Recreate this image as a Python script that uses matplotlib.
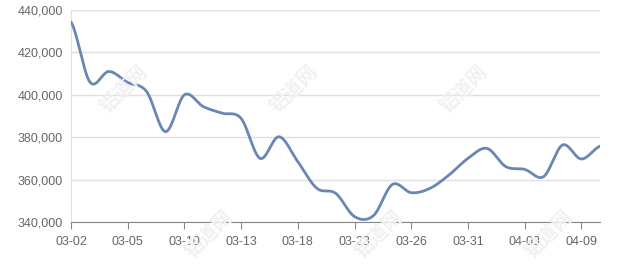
import numpy as np
import matplotlib
matplotlib.use("Agg")
import matplotlib.pyplot as plt
from matplotlib.ticker import FuncFormatter

plt.rcParams['font.family'] = ['Liberation Sans', 'Noto Sans CJK SC']

# trading days, 2020-03-02 .. 2020-04-10
dates = ["03-02", "03-03", "03-04", "03-05", "03-06", "03-09", "03-10", "03-11",
         "03-12", "03-13", "03-16", "03-17", "03-18", "03-19", "03-20", "03-23",
         "03-24", "03-25", "03-26", "03-27", "03-30", "03-31", "04-01", "04-02",
         "04-03", "04-07", "04-08", "04-09", "04-10"]

stock = [434300, 406000, 411000, 405800, 401500, 382600, 400000, 394400,
         391300, 388800, 370000, 380200, 368400, 355900, 353500, 342500,
         343000, 357700, 353800, 355900, 362200, 370000, 374700, 366100,
         364800, 361400, 376300, 369700, 375800]

label_every = 3


def smooth_curve(y, n=20):
    # catmull-rom through the points, a bit like the echarts smooth line
    y = np.asarray(y, dtype=float)
    p = np.concatenate([[y[0]], y, [y[-1]]])
    xs, ys = [], []
    for i in range(len(y) - 1):
        p0, p1, p2, p3 = p[i], p[i + 1], p[i + 2], p[i + 3]
        t = np.linspace(0, 1, n, endpoint=False)
        seg = 0.5 * ((2 * p1) + (-p0 + p2) * t
                     + (2 * p0 - 5 * p1 + 4 * p2 - p3) * t ** 2
                     + (-p0 + 3 * p1 - 3 * p2 + p3) * t ** 3)
        xs.append(i + t)
        ys.append(seg)
    xs.append([len(y) - 1])
    ys.append([y[-1]])
    return np.concatenate(xs), np.concatenate(ys)


fig = plt.figure(figsize=(6.4, 2.7), dpi=100)
ax = fig.add_axes([0.111, 0.178, 0.827, 0.785])

# faint watermarks
for wx, wy in [(125, 90), (295, 90), (465, 90), (210, 235), (380, 235), (550, 235)]:
    fig.text(wx / 640, 1 - wy / 270, "铝道网", rotation=45, fontsize=14,
             fontweight="bold", color="#f1f1f1", ha="center", va="center",
             family=["Noto Sans CJK SC"], zorder=0)

x = np.arange(len(stock))
sx, sy = smooth_curve(stock)
ax.plot(sx, sy, color="#6a86b3", lw=2, zorder=3, solid_capstyle="round")

ax.set_xlim(0, len(stock) - 1)
ax.set_ylim(340000, 440000)
ax.set_yticks(np.arange(340000, 440001, 20000))
ax.yaxis.set_major_formatter(FuncFormatter(lambda v, p: f"{int(v):,}"))
ax.set_xticks(x[::label_every])
ax.set_xticklabels(dates[::label_every])

ax.patch.set_alpha(0)
ax.grid(axis="y", color="#e0e0e0", lw=1)
ax.set_axisbelow(True)
for s in ["top", "right"]:
    ax.spines[s].set_visible(False)
ax.spines["left"].set_color("#e0e0e0")
ax.spines["bottom"].set_color("#888888")
ax.tick_params(axis="y", length=0, pad=6, labelsize=9, labelcolor="#666666")
ax.tick_params(axis="x", length=5, color="#888888", pad=5, labelsize=9,
               labelcolor="#666666")

fig.savefig("out.png", dpi=100)
